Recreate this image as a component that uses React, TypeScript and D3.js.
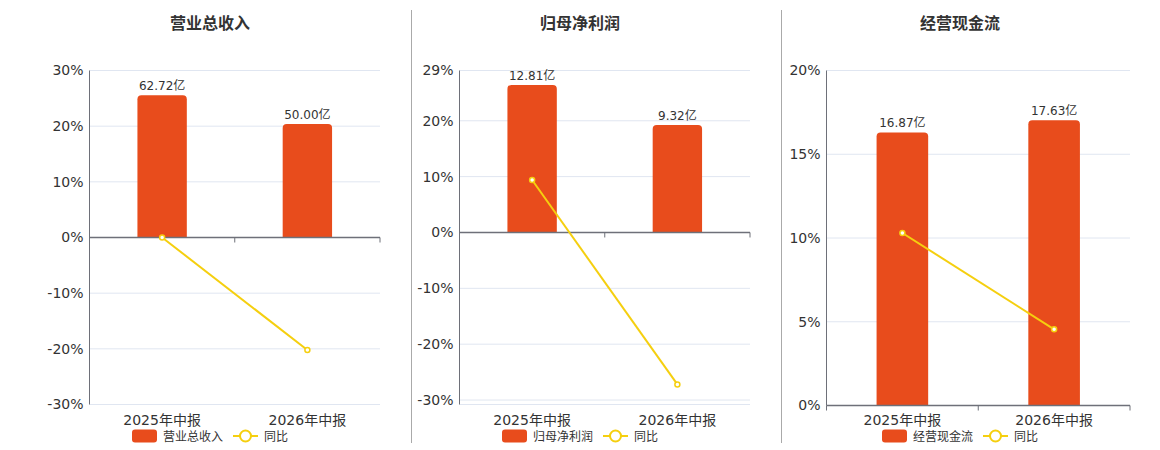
import React from "react";
import * as d3 from "d3";

const categories = ["2025年中报", "2026年中报"];
const titles = ["营业总收入", "归母净利润", "经营现金流"];
const barValues = [
  [62.72, 50.0],
  [12.81, 9.32],
  [16.87, 17.63],
];
const barLabels = [
  ["62.72亿", "50.00亿"],
  ["12.81亿", "9.32亿"],
  ["16.87亿", "17.63亿"],
];
const yoyValues = [
  [0.0, -20.2],
  [9.4, -27.2],
  [10.3, 4.55],
];
const pctDomains: [number, number][] = [
  [-30, 30],
  [-30.8, 29],
  [0, 20],
];
const pctTicks = [
  [-30, -20, -10, 0, 10, 20, 30],
  [-30, -20, -10, 0, 10, 20, 29],
  [0, 5, 10, 15, 20],
];
const barAxisMax = [73.6, 14.06, 20.7];
const lineName = "同比";

const layout = [
  { left: 89.5, right: 380, top: 70.5, bottom: 404.5, cx: 210 },
  { left: 459.5, right: 750, top: 70.5, bottom: 404.5, cx: 580 },
  { left: 826.5, right: 1130, top: 70.5, bottom: 405.5, cx: 960 },
];
const separators = [411, 781];

const BAR = "#E84C1C";
const LINE = "#F5CF0F";
const FONT = "'DejaVu Sans', 'Noto Sans CJK SC', sans-serif";

function Panel({ i }: { i: number }) {
  const L = layout[i];
  const y = d3.scaleLinear().domain(pctDomains[i]).range([L.bottom, L.top]);
  const x = d3
    .scaleBand<string>()
    .domain(categories)
    .range([L.left, L.right])
    .paddingInner(0.66)
    .paddingOuter(0.33);
  const zeroY = y(0);
  const yb = d3.scaleLinear().domain([0, barAxisMax[i]]).range([zeroY, L.top]);
  const step = x.step();
  const line = d3
    .line<number>()
    .x((_, k) => (x(categories[k]) as number) + x.bandwidth() / 2)
    .y((v) => y(v));
  const gridVals = Array.from(new Set([...pctTicks[i], pctDomains[i][0], pctDomains[i][1]]));
  const boundaries = d3.range(categories.length + 1).map((k) => L.left + (k * (L.right - L.left)) / categories.length);

  // legend
  const barLegendW = 25;
  const legendText1W = titles[i].length * 12;
  const lineLegendW = 25;
  const legendText2W = lineName.length * 12;
  const totalW = barLegendW + 6 + legendText1W + 10 + lineLegendW + 6 + legendText2W;
  const lx = L.cx - totalW / 2;

  return (
    <g>
      <text x={L.cx} y={29} textAnchor="middle" fontSize={16} fontWeight="bold" fill="#333" fontFamily={FONT}>
        {titles[i]}
      </text>
      {gridVals.map((v) => (
        <line key={"g" + v} x1={L.left} x2={L.right} y1={y(v)} y2={y(v)} stroke="#E0E6F1" strokeWidth={1} />
      ))}
      {pctTicks[i].map((v) => (
        <text key={"t" + v} x={L.left - 6} y={y(v)} dy="0.35em" textAnchor="end" fontSize={14} fill="#333" fontFamily={FONT}>
          {v + "%"}
        </text>
      ))}
      <line x1={L.left} x2={L.left} y1={L.top} y2={L.bottom} stroke="#6E7079" strokeWidth={1} />
      {categories.map((c, k) => {
        const v = barValues[i][k];
        const bx = x(c) as number;
        const top = yb(v);
        const h = zeroY - top;
        const r = 4;
        const w = x.bandwidth();
        const path = `M${bx},${zeroY}V${top + r}Q${bx},${top} ${bx + r},${top}H${bx + w - r}Q${bx + w},${top} ${bx + w},${top + r}V${zeroY}Z`;
        return (
          <g key={c}>
            <path d={h > 0 ? path : ""} fill={BAR} />
            <text x={bx + w / 2} y={top - 5} textAnchor="middle" fontSize={12} fill="#333" fontFamily={FONT}>
              {barLabels[i][k]}
            </text>
            <text x={bx + w / 2} y={425} textAnchor="middle" fontSize={14} fill="#333" fontFamily={FONT}>
              {c}
            </text>
          </g>
        );
      })}
      <line x1={L.left} x2={L.right} y1={zeroY} y2={zeroY} stroke="#6E7079" strokeWidth={1.5} />
      {boundaries.map((bxv, k) => (
        <line key={"tk" + k} x1={bxv} x2={bxv} y1={zeroY} y2={zeroY + 5} stroke="#6E7079" strokeWidth={1} />
      ))}
      <path d={line(yoyValues[i]) || ""} fill="none" stroke={LINE} strokeWidth={2} />
      {yoyValues[i].map((v, k) => (
        <circle
          key={"p" + k}
          cx={(x(categories[k]) as number) + x.bandwidth() / 2}
          cy={y(v)}
          r={2.5}
          fill="#fff"
          stroke={LINE}
          strokeWidth={1.5}
        />
      ))}
      <g>
        <rect x={lx} y={429.5} width={barLegendW} height={13} rx={3} fill={BAR} />
        <text x={lx + barLegendW + 6} y={440.5} fontSize={12} fill="#333" fontFamily={FONT}>
          {titles[i]}
        </text>
        <line
          x1={lx + barLegendW + 6 + legendText1W + 10}
          x2={lx + barLegendW + 6 + legendText1W + 10 + lineLegendW}
          y1={436}
          y2={436}
          stroke={LINE}
          strokeWidth={2}
        />
        <circle
          cx={lx + barLegendW + 6 + legendText1W + 10 + lineLegendW / 2}
          cy={436}
          r={5.5}
          fill="#fff"
          stroke={LINE}
          strokeWidth={2}
        />
        <text x={lx + barLegendW + 6 + legendText1W + 10 + lineLegendW + 6} y={440.5} fontSize={12} fill="#333" fontFamily={FONT}>
          {lineName}
        </text>
      </g>
    </g>
  );
}

export default function App() {
  return (
    <div style={{ position: "absolute", left: 0, top: 0, width: 1160, height: 450, background: "#fff" }}>
      <svg width={1160} height={450}>
        {separators.map((sx) => (
          <line key={sx} x1={sx + 0.5} x2={sx + 0.5} y1={10} y2={443} stroke="#AAAAAA" strokeWidth={1} />
        ))}
        {titles.map((_, i) => (
          <Panel key={i} i={i} />
        ))}
      </svg>
    </div>
  );
}
